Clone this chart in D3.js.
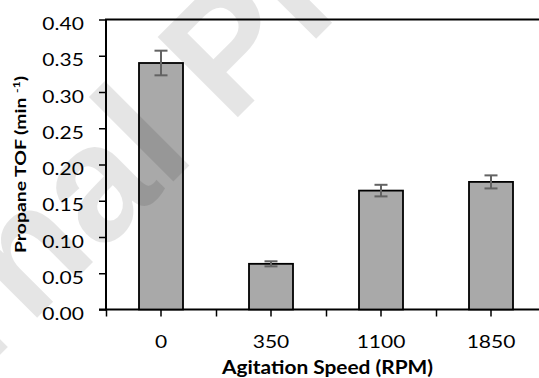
<!DOCTYPE html>
<meta charset="utf-8">
<script src="https://d3js.org/d3.v7.min.js"></script>
<style>
  body { margin: 0; background: #fff; }
  svg text { font-family: Lato, "Open Sans", sans-serif; fill: #000; }
</style>
<div id="my_dataviz"></div>
<script>

// data
var speeds = ["0", "350", "1100", "1850"];
var tof = [0.340, 0.063, 0.164, 0.176];
var tofErr = [0.017, 0.0035, 0.008, 0.009];
var yTicks = [0, 0.05, 0.10, 0.15, 0.20, 0.25, 0.30, 0.35, 0.40];

var W = 539, H = 378;
// plot box: the right edge runs past the cropped picture
var plotL = 106, plotR = 546, plotT = 19.5, plotB = 309.5;
var sx = 1.2; // the reference text is stretched sideways

var svg = d3.select("#my_dataviz")
  .append("svg")
    .attr("width", W)
    .attr("height", H);

var x = d3.scaleBand()
  .domain(speeds)
  .range([plotL, plotR])
  .paddingInner(0.6)
  .paddingOuter(0.3);

var y = d3.scaleLinear()
  .domain([0, 0.4])
  .range([plotB, plotT]);

// Y axis
var yAxis = svg.append("g")
  .attr("transform", "translate(" + plotL + ",0)")
  .call(d3.axisLeft(y).tickValues(yTicks).tickSize(7).tickFormat(d3.format(".2f")));
yAxis.select(".domain").remove();
yAxis.selectAll("line").attr("stroke", "#000").attr("stroke-width", 1.5);
yAxis.selectAll("text")
  .attr("x", -18.5)
  .attr("dy", 0)
  .attr("y", 10)
  .attr("transform", "scale(" + sx + ",1)")
  .style("font-size", "17.5px");

// X axis: boundary ticks + centre ticks
var xBound = d3.scaleLinear().domain([0, speeds.length]).range([plotL, plotR]);
var xb = svg.append("g")
  .attr("transform", "translate(0," + plotB + ")")
  .call(d3.axisBottom(xBound).ticks(speeds.length).tickSize(7).tickFormat(""));
xb.select(".domain").remove();
xb.selectAll("line").attr("stroke", "#000").attr("stroke-width", 1.5);

var xAxis = svg.append("g")
  .attr("transform", "translate(0," + plotB + ")")
  .call(d3.axisBottom(x).tickSize(7));
xAxis.select(".domain").remove();
xAxis.selectAll("line").attr("stroke", "#000").attr("stroke-width", 1.5);
xAxis.selectAll("text")
  .attr("y", 38.5)
  .attr("dy", 0)
  .attr("transform", "scale(" + sx + ",1)")
  .style("font-size", "17.5px");

// frame lines (top, left, bottom)
svg.append("path")
  .attr("d", "M" + plotR + "," + plotT + "H" + plotL + "V" + plotB + "H" + plotR)
  .attr("fill", "none")
  .attr("stroke", "#000")
  .attr("stroke-width", 2);
svg.append("line")
  .attr("x1", plotL - 7).attr("x2", plotL)
  .attr("y1", plotB).attr("y2", plotB)
  .attr("stroke", "#000").attr("stroke-width", 2);

// bars
svg.append("g")
  .selectAll("rect")
  .data(speeds)
  .enter()
  .append("rect")
    .attr("x", function(d) { return x(d); })
    .attr("y", function(d, i) { return y(tof[i]); })
    .attr("width", x.bandwidth())
    .attr("height", function(d, i) { return y(0) - y(tof[i]); })
    .attr("fill", "#a9a9a9")
    .attr("stroke", "#000")
    .attr("stroke-width", 1.8);

// error bars
var eb = svg.append("g")
  .attr("stroke", "#636363")
  .attr("stroke-width", 2)
  .selectAll("g")
  .data(speeds)
  .enter()
  .append("g");
eb.append("line")
  .attr("x1", function(d) { return x(d) + x.bandwidth() / 2; })
  .attr("x2", function(d) { return x(d) + x.bandwidth() / 2; })
  .attr("y1", function(d, i) { return y(tof[i] - tofErr[i]); })
  .attr("y2", function(d, i) { return y(tof[i] + tofErr[i]); });
[-1, 1].forEach(function(s) {
  eb.append("line")
    .attr("x1", function(d) { return x(d) + x.bandwidth() / 2 - 6.5; })
    .attr("x2", function(d) { return x(d) + x.bandwidth() / 2 + 6.5; })
    .attr("y1", function(d, i) { return y(tof[i] + s * tofErr[i]); })
    .attr("y2", function(d, i) { return y(tof[i] + s * tofErr[i]); });
});

// axis titles
svg.append("text")
  .attr("x", 327.5)
  .attr("y", 373.5)
  .attr("text-anchor", "middle")
  .attr("textLength", 211)
  .attr("lengthAdjust", "spacingAndGlyphs")
  .style("font-size", "18px")
  .style("font-weight", "bold")
  .text("Agitation Speed (RPM)");

var yt = svg.append("text")
  .attr("transform", "translate(26,164.5) rotate(-90)")
  .attr("text-anchor", "middle")
  .attr("textLength", 177)
  .attr("lengthAdjust", "spacingAndGlyphs")
  .style("font-size", "16px")
  .style("font-weight", "bold");
yt.append("tspan").text("Propane TOF (min ");
yt.append("tspan").attr("dy", -6).style("font-size", "10px").text("-1");
yt.append("tspan").attr("dy", 6).text(")");

// watermark laid over the figure
var wm = svg.append("g")
  .attr("transform", "translate(247.5,107.5) rotate(-45)")
  .style("font-weight", "bold")
  .style("font-size", "165px")
  .attr("fill-opacity", 0.1);
wm.append("text").attr("x", -70.5).attr("text-anchor", "end")
  .style("font-family", "'Liberation Sans', Arial, sans-serif").text("Journal");
wm.append("text").attr("x", -24.6)
  .style("font-family", "'Liberation Sans', Arial, sans-serif").text("Pre-proof");

</script>
